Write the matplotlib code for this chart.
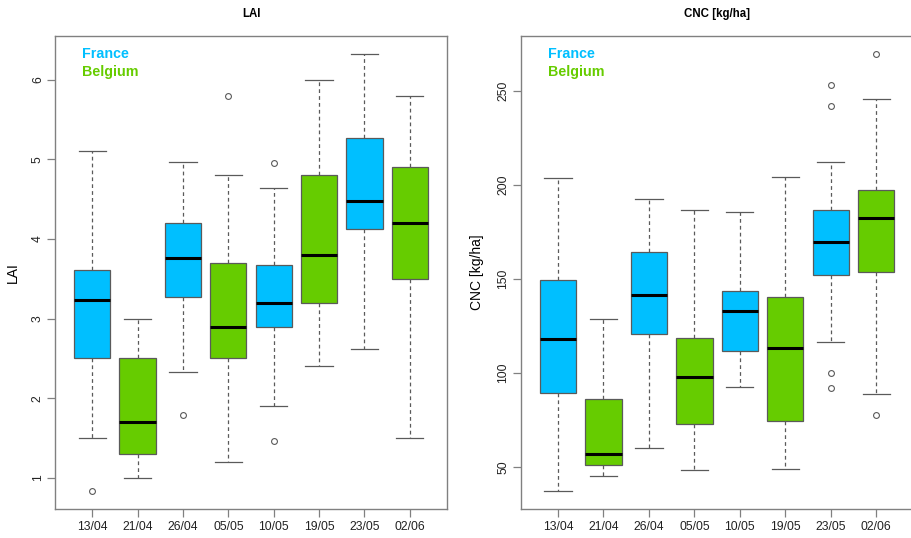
import matplotlib
matplotlib.use("Agg")
from matplotlib import pyplot as plt

plt.rcParams["font.family"] = ["Liberation Sans", "DejaVu Sans"]

dates = ["13/04", "21/04", "26/04", "05/05", "10/05", "19/05", "23/05", "02/06"]
country = ["France", "Belgium", "France", "Belgium", "France", "Belgium", "France", "Belgium"]

# LAI box stats
lai_lo = [1.50, 1.00, 2.33, 1.20, 1.90, 2.40, 2.62, 1.50]
lai_q1 = [2.51, 1.30, 3.27, 2.50, 2.90, 3.20, 4.12, 3.50]
lai_med = [3.24, 1.70, 3.76, 2.90, 3.20, 3.80, 4.48, 4.20]
lai_q3 = [3.61, 2.50, 4.20, 3.70, 3.67, 4.80, 5.27, 4.90]
lai_hi = [5.10, 3.00, 4.97, 4.80, 4.64, 6.00, 6.33, 5.80]
lai_out = [[0.83], [], [1.79], [5.80], [4.96, 1.46], [], [], []]

# CNC box stats
cnc_lo = [37.2, 45.3, 60.3, 48.5, 92.5, 49.0, 116.5, 89.0]
cnc_q1 = [89.5, 51.2, 121.0, 72.9, 111.6, 74.7, 152.3, 154.0]
cnc_med = [118.0, 57.0, 141.3, 98.2, 133.2, 113.6, 169.9, 182.3]
cnc_q3 = [149.4, 86.3, 164.6, 118.5, 143.9, 140.6, 186.5, 197.5]
cnc_hi = [203.5, 128.7, 192.7, 186.7, 185.8, 204.0, 212.2, 245.9]
cnc_out = [[], [], [], [], [], [], [253.0, 241.9, 100.1, 92.2], [269.8, 77.8]]

colors = {"France": "#00BFFF", "Belgium": "#66CC00"}
grey = "#808080"

fig = plt.figure(figsize=(9.11, 5.38), dpi=100)
ax1 = fig.add_axes([55 / 911, 1 - 509 / 538, 392 / 911, 473 / 538])
ax2 = fig.add_axes([520.7 / 911, 1 - 509 / 538, 392.8 / 911, 473 / 538])


def draw(ax, lo, q1, med, q3, hi, out, title, ylabel, yticks, ymin, ymax, labx):
    stats = []
    for i in range(len(dates)):
        stats.append({"whislo": lo[i], "q1": q1[i], "med": med[i], "q3": q3[i],
                      "whishi": hi[i], "fliers": out[i], "label": dates[i]})
    b = ax.bxp(stats, positions=range(1, len(dates) + 1), widths=0.8,
               patch_artist=True, showfliers=True,
               boxprops=dict(edgecolor="#5a5a5a", linewidth=0.9),
               medianprops=dict(color="black", linewidth=2.2),
               whiskerprops=dict(color="#5a5a5a", linewidth=0.9, linestyle=(0, (3, 2.5))),
               capprops=dict(color="#5a5a5a", linewidth=0.9),
               flierprops=dict(marker="o", markersize=4.2, markerfacecolor="none",
                               markeredgecolor="#5a5a5a", markeredgewidth=0.8))
    for patch, c in zip(b["boxes"], country):
        patch.set_facecolor(colors[c])
    for cap in b["caps"]:
        x0, x1 = cap.get_xdata()
        m = (x0 + x1) / 2
        cap.set_xdata([m - 0.3, m + 0.3])

    r = ymax - ymin
    ax.set_ylim(ymin - 0.04 * r, ymax + 0.04 * r)
    ax.set_xlim(0.18, 8.82)
    ax.set_yticks(yticks)
    ax.set_yticklabels([str(t) for t in yticks], rotation=90, va="center")
    for s in ax.spines.values():
        s.set_color(grey)
        s.set_linewidth(1.0)
    ax.tick_params(length=6, width=0.9, color=grey, labelsize=8.7, labelcolor="#222222", pad=3)
    ax.tick_params(axis="y", pad=2)
    ax.set_title(title, fontsize=8.3, fontweight="bold", pad=14)
    ax.set_ylabel(ylabel, fontsize=10)
    ax.yaxis.label.set_va("center")
    ax.yaxis.set_label_coords(labx, 0.5)
    ax.text(0.069, 0.962, "France", transform=ax.transAxes, color=colors["France"],
            fontsize=10.3, fontweight="bold", va="center", ha="left")
    ax.text(0.069, 0.924, "Belgium", transform=ax.transAxes, color=colors["Belgium"],
            fontsize=10.3, fontweight="bold", va="center", ha="left")


draw(ax1, lai_lo, lai_q1, lai_med, lai_q3, lai_hi, lai_out, "LAI", "LAI",
     [1, 2, 3, 4, 5, 6], 0.83, 6.33, -0.108)
draw(ax2, cnc_lo, cnc_q1, cnc_med, cnc_q3, cnc_hi, cnc_out, "CNC [kg/ha]", "CNC [kg/ha]",
     [50, 100, 150, 200, 250], 37.2, 269.8, -0.110)

fig.savefig("out.png", dpi=100)
